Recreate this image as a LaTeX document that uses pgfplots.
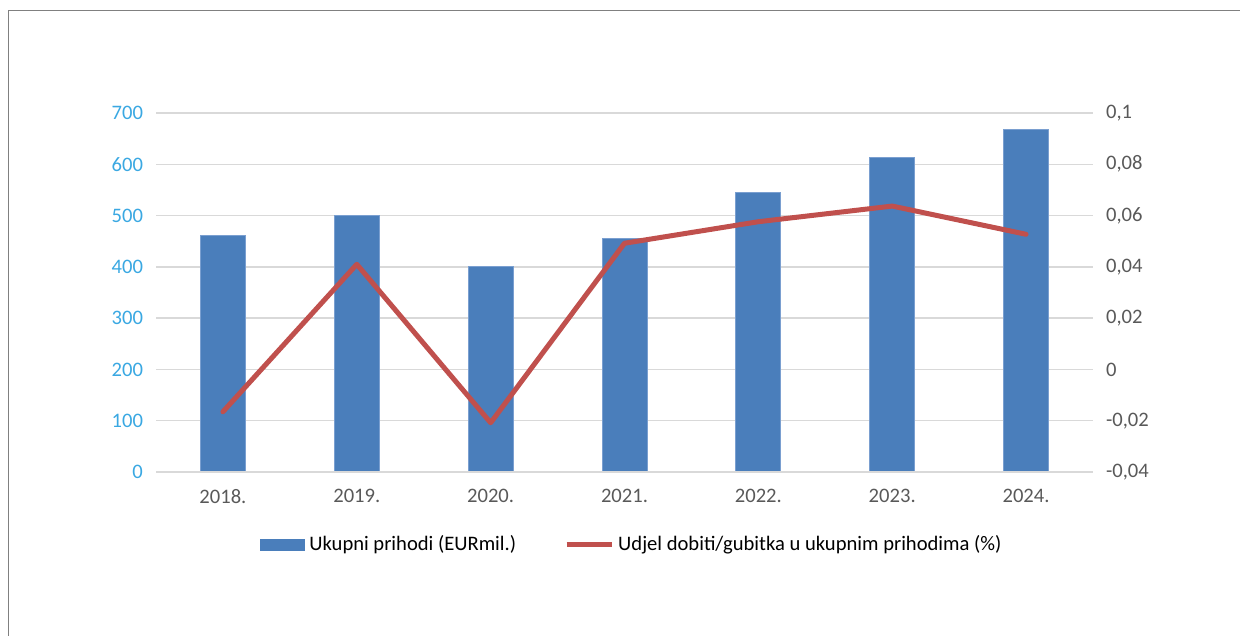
\documentclass[border=0pt]{standalone}
\usepackage{pgfplots}
\pgfplotsset{compat=1.18}
\usepackage{fontspec}
\setmainfont{Carlito}
\definecolor{barblue}{HTML}{4A7EBB}
\definecolor{baredge}{HTML}{7A9FD0}
\definecolor{linered}{HTML}{C0504D}
\definecolor{gridgray}{HTML}{D9D9D9}
\definecolor{ticklblue}{HTML}{3AA8E2}
\definecolor{txtgray}{HTML}{595959}
\definecolor{framegray}{HTML}{808080}
\begin{document}
\begin{tikzpicture}[x=1pt,y=1pt]
\useasboundingbox (0,0) rectangle (620,318);
\draw[framegray,line width=0.8pt] (4.25,-5) -- (4.25,312.75) -- (630,312.75);
\begin{axis}[
  at={(78pt,82pt)}, anchor=south west,
  scale only axis, width=468.5pt, height=179.5pt,
  xmin=-0.5, xmax=6.5, ymin=0, ymax=700,
  xtick={0,1,2,3,4,5,6},
  xticklabels={2018.,2019.,2020.,2021.,2022.,2023.,2024.},
  ytick={0,100,200,300,400,500,600,700},
  yticklabels={0,100,200,300,400,500,600,700},
  axis line style={draw=none},
  axis x line*=bottom,
  axis y line*=left,
  major tick length=0pt,
  ymajorgrids, grid style={gridgray,line width=0.75pt},
  x tick label style={font=\fontsize{10.3}{12}\selectfont,text=txtgray,yshift=-5pt},
  y tick label style={font=\fontsize{10.3}{12}\selectfont,text=ticklblue,xshift=-3pt},
  legend style={at={(0.509,-0.203)},anchor=center,draw=none,fill=none,
    legend columns=2,font=\fontsize{10.3}{12}\selectfont,text=black,
    /tikz/every even column/.append style={column sep=22pt}},
  legend cell align=left,
]
\addlegendimage{area legend, fill=barblue, draw=none,
  legend image code/.code={\fill[barblue] (0pt,-3pt) rectangle (22.5pt,3pt);}}
\addlegendentry{Ukupni prihodi (EURmil.)}
\addlegendimage{linered,line width=2.5pt,
  legend image code/.code={\draw[linered,line width=2.5pt] (0pt,0pt) -- (22.5pt,0pt);}}
\addlegendentry{Udjel dobiti/gubitka u ukupnim prihodima (\%)}
\addplot[ybar, bar width=22.5pt, fill=barblue, draw=baredge, line width=0.4pt, forget plot]
  coordinates {(0,462) (1,500) (2,400) (3,455) (4,545) (5,614) (6,668)};
\draw[gridgray,line width=0.75pt] (axis cs:-0.5,0) -- (axis cs:6.5,0);
\end{axis}
\begin{axis}[
  at={(78pt,82pt)}, anchor=south west,
  scale only axis, width=468.5pt, height=179.5pt,
  xmin=-0.5, xmax=6.5, ymin=-0.04, ymax=0.1,
  axis x line=none,
  axis y line*=right,
  axis line style={draw=none},
  major tick length=0pt,
  ytick={-0.04,-0.02,0,0.02,0.04,0.06,0.08,0.1},
  yticklabels={{-0,04},{-0,02},0,{0,02},{0,04},{0,06},{0,08},{0,1}},
  y tick label style={font=\fontsize{10.3}{12}\selectfont,text=txtgray,xshift=3pt},
]
\addplot[linered, line width=2.5pt, line join=round, line cap=round, mark=none]
  coordinates {(0,-0.0165) (1,0.041) (2,-0.0208) (3,0.0492) (4,0.0576) (5,0.0637) (6,0.0527)};
\end{axis}
\end{tikzpicture}
\end{document}
